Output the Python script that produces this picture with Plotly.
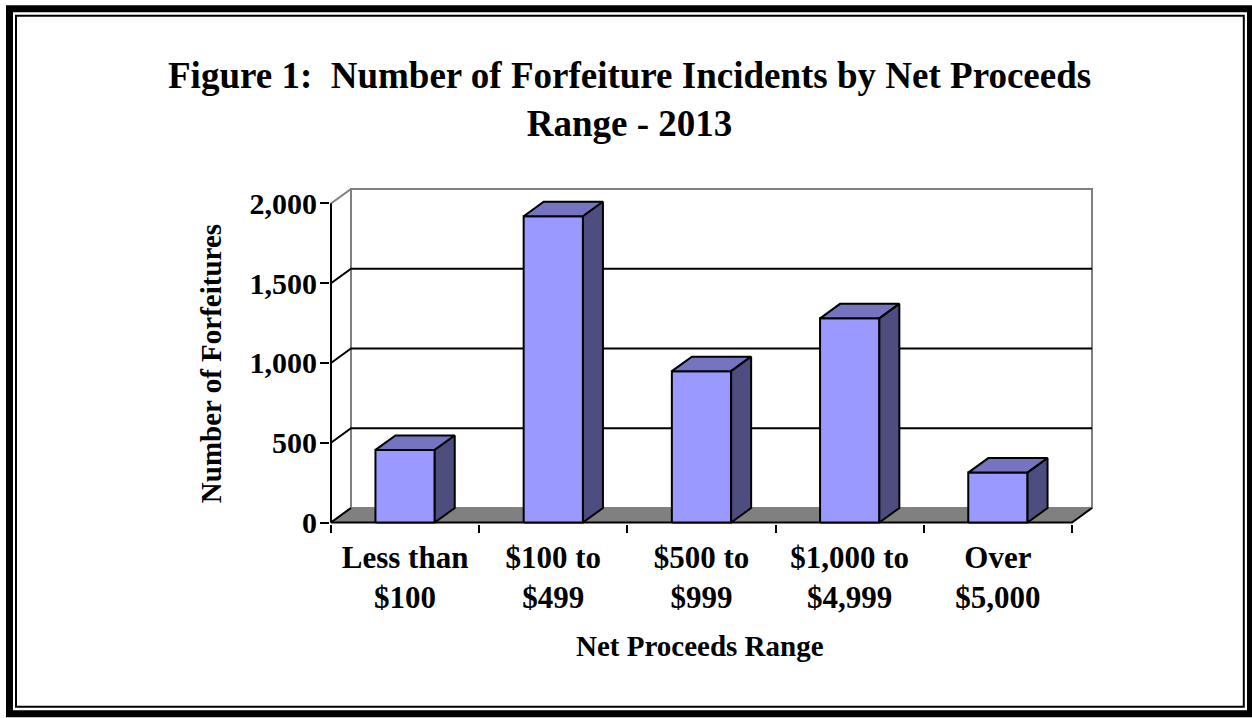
import plotly.graph_objects as go

# ---------------- data ----------------
categories = ["Less than<br>$100", "$100 to<br>$499", "$500 to<br>$999",
              "$1,000 to<br>$4,999", "Over<br>$5,000"]
forfeitures = [455, 1920, 949, 1280, 313]
y_ticks = [0, 500, 1000, 1500, 2000]
y_top = 2000

# ---------------- geometry (pixels -> data scale) ----------------
W, HG = 1252, 718
PX_CAT = 148.2           # pixels per category
PX_UNIT = 319.3 / 2000   # pixels per value unit
LEFT = 331.0             # front axis x (pixel)
ZERO = 523.0             # zero line y (pixel)
D = 20.0 / PX_CAT        # depth offset, category units
H = 14.5 / PX_UNIT       # depth offset, value units
BAR_W = 0.40

n = len(categories)
eps_x = 1.0 / PX_CAT
eps_y = 1.5 / PX_UNIT
x_lo = -0.5 - eps_x
x_hi = n - 0.5 + D + 3.0 / PX_CAT
y_lo = -eps_y
y_hi = y_top + H + 3.0 / PX_UNIT

ml = LEFT - 1.0
pw = (x_hi - x_lo) * PX_CAT
mr = W - ml - pw
mb = HG - (ZERO + 1.5)
ph = (y_hi - y_lo) * PX_UNIT
mt = HG - mb - ph


def px2paper(px, py):
    return (px - ml) / pw, 1 - (py - mt) / ph


FONT = "Liberation Serif"
FRONT = "#9999FF"
TOP = "#7474C0"
SIDE = "#4D4D80"
GRAY = "#808080"

fig = go.Figure()

def poly(xs, ys, fill, line_color, lw=2):
    fig.add_trace(go.Scatter(x=xs + [xs[0]], y=ys + [ys[0]], mode="lines", fill="toself",
                             fillcolor=fill, line=dict(color=line_color, width=lw),
                             hoverinfo="skip", showlegend=False))

def line(xs, ys, color, lw=2):
    fig.add_trace(go.Scatter(x=xs, y=ys, mode="lines", line=dict(color=color, width=lw),
                             hoverinfo="skip", showlegend=False, connectgaps=False))

x0, x1 = -0.5, n - 0.5
# back wall
poly([x0 + D, x1 + D, x1 + D, x0 + D], [H, H, y_top + H, y_top + H], "white", GRAY)
# left wall
poly([x0, x0, x0 + D, x0 + D], [0, y_top, y_top + H, H], "white", GRAY)
# floor
poly([x0, x1, x1 + D, x0 + D], [0, 0, H, H], GRAY, GRAY, 1)

# gridlines (left wall diagonal + back wall)
gx, gy = [], []
for v in y_ticks[1:-1]:
    gx += [x0, x0 + D, x1 + D, None]
    gy += [v, v + H, v + H, None]
line(gx, gy, "black", 2)

# floor edges and axis lines
line([x0 + D, x0, x1, x1 + D], [H, 0, 0, H], "black", 2)
line([x0, x0], [0, y_top], "black", 2)

# bars
for i, v in enumerate(forfeitures):
    a, b = i - BAR_W / 2, i + BAR_W / 2
    poly([a, b, b, a], [0, 0, v, v], FRONT, "black", 2)
    poly([a, b, b + D, a + D], [v, v, v + H, v + H], TOP, "black", 2)
    poly([b, b + D, b + D, b], [0, H, v + H, v], SIDE, "black", 2)

tick_font = dict(family=FONT, size=30, color="black", weight="bold")

fig.update_layout(
    width=W, height=HG, autosize=False,
    margin=dict(l=ml, r=mr, t=mt, b=mb, pad=0),
    paper_bgcolor="white", plot_bgcolor="white",
    showlegend=False,
    xaxis=dict(range=[x_lo, x_hi], tickmode="array", tickvals=list(range(n)), ticktext=categories,
               ticks="", showgrid=False, zeroline=False, showline=False,
               tickfont=dict(family=FONT, size=31, color="black", weight="bold"),
               ticklabelstandoff=12,
               minor=dict(tickmode="array", tickvals=[i - 0.5 for i in range(n + 1)],
                          ticks="outside", ticklen=8, tickwidth=2, tickcolor="black",
                          showgrid=False)),
    yaxis=dict(range=[y_lo, y_hi], tickmode="array", tickvals=y_ticks, tickformat=",",
               ticks="outside", ticklen=9, tickwidth=2, tickcolor="black",
               showgrid=False, zeroline=False, showline=False,
               tickfont=tick_font, ticklabelstandoff=-3),
)

ax, ay = px2paper(629, 100)
bx, by = px2paper(210.5, 364)
cx, cy = px2paper(700, 647)
fig.add_annotation(x=ax, y=ay, xref="paper", yref="paper", showarrow=False,
                   text="Figure 1:  Number of Forfeiture Incidents by Net Proceeds<br>Range - 2013",
                   font=dict(family=FONT, size=37, color="black", weight="bold"),
                   xanchor="center", yanchor="middle", align="center")
fig.add_annotation(x=bx, y=by, xref="paper", yref="paper", showarrow=False,
                   text="Number of Forfeitures", textangle=-90,
                   font=dict(family=FONT, size=29, color="black", weight="bold"),
                   xanchor="center", yanchor="middle")
fig.add_annotation(x=cx, y=cy, xref="paper", yref="paper", showarrow=False,
                   text="Net Proceeds Range",
                   font=dict(family=FONT, size=29, color="black", weight="bold"),
                   xanchor="center", yanchor="middle")

# decorative double frame
def frame(l, t, r, b, w):
    p0 = px2paper(l, t)
    p1 = px2paper(r, b)
    fig.add_shape(type="rect", xref="paper", yref="paper", x0=p0[0], y0=p0[1], x1=p1[0], y1=p1[1],
                  line=dict(color="black", width=w), fillcolor="rgba(0,0,0,0)", layer="above")

frame(9.5, 8.8, 1250.5, 714.5, 7)
frame(16, 15.7, 1243.8, 707.3, 2)

fig.write_html("out.html", config={"displayModeBar": False},
               post_script="document.body.style.margin='0px';document.body.style.overflow='hidden';")
